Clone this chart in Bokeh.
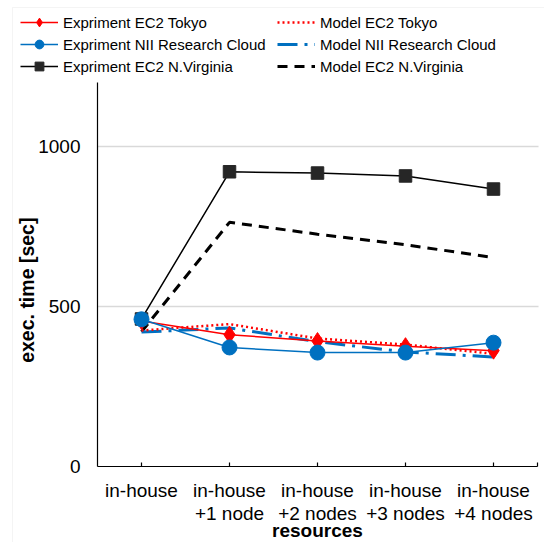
import math
from bokeh.plotting import figure
from bokeh.models import Legend, LegendItem, Range1d, BoxAnnotation
from bokeh.core.properties import value
from bokeh.embed import file_html
from bokeh.resources import INLINE

categories = ["in-house", "in-house\n+1 node", "in-house\n+2 nodes", "in-house\n+3 nodes", "in-house\n+4 nodes"]
exp_tokyo = [455, 412, 392, 376, 362]
model_tokyo = [425, 445, 400, 381, 352]
exp_nii = [460, 372, 356, 356, 387]
model_nii = [420, 433, 390, 358, 342]
exp_nv = [461, 921, 917, 908, 867]
model_nv = [421, 763, 726, 693, 653]
y_ticks = [0, 500, 1000]
y_grid = [500, 1000]
y_max = 1200

# layout (pixels on the canvas)
W, H = 544, 542
PLOT_L, PLOT_R, PLOT_T, PLOT_B = 97, 537, 82, 466
FONT = "Liberation Sans"

n = len(categories)
xs = list(range(n))
px_per_x = (PLOT_R - PLOT_L) / n
px_per_y = (PLOT_B - PLOT_T) / y_max
x_lo, x_hi = -0.5, n - 0.5
x_start = x_lo - PLOT_L / px_per_x
x_end = x_hi + (W - PLOT_R) / px_per_x
y_start = -(H - PLOT_B) / px_per_y
y_end = y_max + PLOT_T / px_per_y

p = figure(width=W, height=H, output_backend="svg", toolbar_location=None,
           x_range=Range1d(x_start, x_end), y_range=Range1d(y_start, y_end),
           x_axis_location=None, y_axis_location=None,
           min_border=0, min_border_left=0, min_border_right=0,
           min_border_top=0, min_border_bottom=0)
p.outline_line_color = None
p.grid.visible = False
p.background_fill_color = "white"
p.border_fill_color = "white"

# outer chart border
p.add_layout(BoxAnnotation(left=12, right=W + 20, top=7, bottom=H + 20,
                           left_units="canvas", right_units="canvas",
                           top_units="canvas", bottom_units="canvas",
                           fill_alpha=0, line_color="#d9d9d9", line_width=1))

# gridlines
p.segment(x0=[x_lo] * len(y_grid), x1=[x_hi + 1 / px_per_x] * len(y_grid), y0=y_grid, y1=y_grid,
          line_color="#d9d9d9", line_width=1.5)

# axes lines and ticks
p.segment(x0=[x_lo], x1=[x_lo], y0=[0], y1=[y_max], line_color="black", line_width=1.2)
p.segment(x0=[x_lo], x1=[x_hi], y0=[0], y1=[0], line_color="black", line_width=1.2)
p.segment(x0=xs + [x_hi], x1=xs + [x_hi], y0=[0] * (n + 1), y1=[4 / px_per_y] * (n + 1),
          line_color="black", line_width=1.2)

# tick labels
p.text(x=[x_lo] * len(y_ticks), y=y_ticks, text=[str(t) for t in y_ticks],
       x_offset=-17, text_align="right", text_baseline="middle",
       text_font=value(FONT), text_font_size=value("19px"), text_color="black")
p.text(x=xs, y=[0] * n, text=categories, y_offset=13, text_align="center",
       text_baseline="top", text_line_height=1.1,
       text_font=value(FONT), text_font_size=value("19px"), text_color="black")

# axis titles
p.text(x=[(x_lo + x_hi) / 2], y=[0], text=["resources"], y_offset=64,
       text_align="center", text_baseline="middle", text_font=value(FONT),
       text_font_size=value("19px"), text_font_style="bold", text_color="black")
p.text(x=[x_lo], y=[(PLOT_B - 287) / px_per_y], text=["exec. time  [sec]"], x_offset=-71,
       angle=math.pi / 2, text_align="center", text_baseline="middle", text_font=value(FONT),
       text_font_size=value("19.5px"), text_font_style="bold", text_color="black")

# series
r_mnv = p.line(xs, model_nv, line_color="black", line_width=3, line_dash="10 7")
r_mnii = p.line(xs, model_nii, line_color="#0070c0", line_width=3, line_dash="20 7 3 7")
r_mt = p.line(xs, model_tokyo, line_color="#ff0000", line_width=2.5, line_dash="2 3")

r_env_l = p.line(xs, exp_nv, line_color="black", line_width=1.5)
r_env_m = p.scatter(xs, exp_nv, marker="square", size=12.5, fill_color="#262626", line_color="#262626")
r_et_l = p.line(xs, exp_tokyo, line_color="#ff0000", line_width=1.5)
r_et_m = p.scatter(xs, exp_tokyo, marker="diamond", size=17, fill_color="#ff0000", line_color="#ff0000")
r_enii_l = p.line(xs, exp_nii, line_color="#0070c0", line_width=1.5)
r_enii_m = p.scatter(xs, exp_nii, marker="circle", size=15, fill_color="#0070c0", line_color="#0070c0")

items = [
    LegendItem(label="Expriment EC2 Tokyo", renderers=[r_et_l, r_et_m]),
    LegendItem(label="Expriment NII Research Cloud", renderers=[r_enii_l, r_enii_m]),
    LegendItem(label="Expriment EC2 N.Virginia", renderers=[r_env_l, r_env_m]),
    LegendItem(label="Model EC2 Tokyo", renderers=[r_mt]),
    LegendItem(label="Model NII Research Cloud", renderers=[r_mnii]),
    LegendItem(label="Model EC2 N.Virginia", renderers=[r_mnv]),
]
legend = Legend(items=items, ncols=2, location=(20, H - 77),
                label_text_font=FONT, label_text_font_size="15px", label_text_color="black",
                label_height=22, glyph_height=22, glyph_width=38, label_standoff=5,
                label_width=214, spacing=0, padding=0, margin=0,
                border_line_color=None, background_fill_alpha=0)
p.add_layout(legend, "center")

open("out.html", "w").write(file_html(p, INLINE))
